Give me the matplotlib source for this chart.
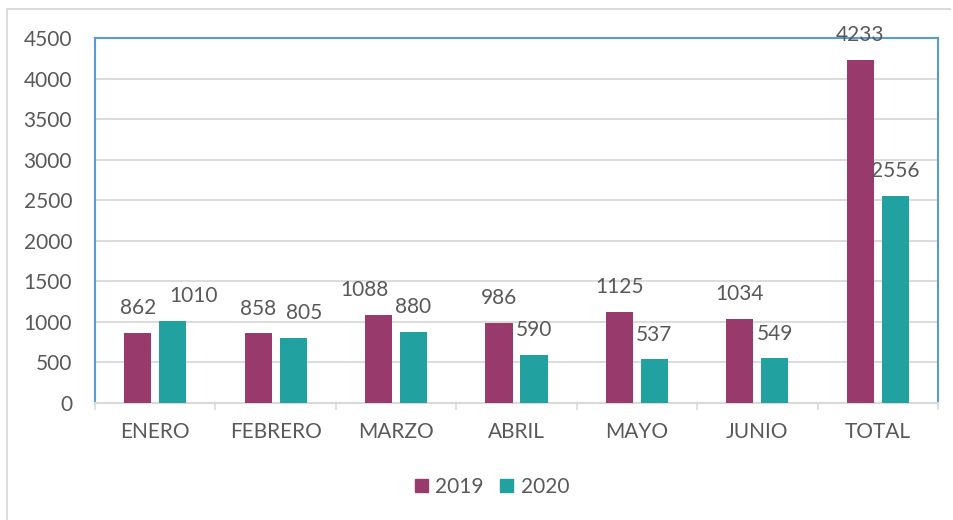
import matplotlib
matplotlib.use("Agg")
import matplotlib.pyplot as plt
from matplotlib.patches import Rectangle
from matplotlib.lines import Line2D
import numpy as np

categories = ["ENERO", "FEBRERO", "MARZO", "ABRIL", "MAYO", "JUNIO", "TOTAL"]
values_2019 = [862, 858, 1088, 986, 1125, 1034, 4233]
values_2020 = [1010, 805, 880, 590, 537, 549, 2556]
series_names = ["2019", "2020"]
y_ticks = [0, 500, 1000, 1500, 2000, 2500, 3000, 3500, 4000, 4500]

# small horizontal nudges (points) of some value labels, as in the reference
label_dx_2019 = [0, 0, -10, 0, 0, 0, 0]
label_dx_2020 = [15, 8, 0, 0, 0, 0, 0]

c2019 = "#993A6D"
c2020 = "#21A19F"
text_c = "#595959"
grid_c = "#D9D9D9"
blue = "#5B9BD5"

plt.rcParams['font.family'] = ['Lato', 'DejaVu Sans']

fig = plt.figure(figsize=(9.54, 5.2), dpi=100)
W, H = 954, 520
ax = fig.add_axes([95 / W, 1 - 403 / H, (938 - 95) / W, (403 - 38) / H])

# outer light border
fig.add_artist(Line2D([7 / W, 7 / W], [0, 1 - 9 / H], color=grid_c, lw=1.3, transform=fig.transFigure))
fig.add_artist(Line2D([7 / W, 950 / W], [1 - 9 / H, 1 - 9 / H], color=grid_c, lw=1.3, transform=fig.transFigure))

x = np.arange(len(categories))
bw = 0.225
off = 0.145
b1 = ax.bar(x - off, values_2019, bw, color=c2019, zorder=3, label=series_names[0])
b2 = ax.bar(x + off, values_2020, bw, color=c2020, zorder=3, label=series_names[1])

for bars, vals, dxs in ((b1, values_2019, label_dx_2019), (b2, values_2020, label_dx_2020)):
    for rect, v, dx in zip(bars, vals, dxs):
        ax.annotate(str(v), (rect.get_x() + rect.get_width() / 2, v),
                    xytext=(dx, 13.5), textcoords="offset points",
                    ha="center", va="baseline", fontsize=15, color=text_c,
                    annotation_clip=False, zorder=5)

ax.set_xlim(-0.5, len(categories) - 0.5)
ax.set_ylim(0, 4500)
ax.set_yticks(y_ticks)
ax.set_yticklabels([str(t) for t in y_ticks])
ax.set_xticks(x)
ax.set_xticklabels(categories)
ax.set_xticks(np.arange(-0.5, len(categories)), minor=True)

ax.tick_params(axis="y", length=0, pad=16.5, labelsize=15, labelcolor=text_c)
ax.tick_params(axis="x", which="major", length=0, pad=14, labelsize=15, labelcolor=text_c)
ax.tick_params(axis="x", which="minor", length=5, width=1.2, color=grid_c)

ax.yaxis.grid(True, color=grid_c, lw=1.3, zorder=0)
ax.set_axisbelow(True)

for s in ("top", "left", "right"):
    ax.spines[s].set_color(blue)
    ax.spines[s].set_linewidth(1.5)
ax.spines["bottom"].set_color(grid_c)
ax.spines["bottom"].set_linewidth(1.5)

h1 = Rectangle((0, 0), 1, 1, color=c2019)
h2 = Rectangle((0, 0), 1, 1, color=c2020)
fig.legend([h1, h2], series_names, loc="center", bbox_to_anchor=(492 / W, 1 - 487 / H),
           ncol=2, frameon=False, fontsize=15, labelcolor=text_c,
           handlelength=0.63, handleheight=0.63, handletextpad=0.35, columnspacing=0.8)

fig.savefig("out.png", dpi=100)
